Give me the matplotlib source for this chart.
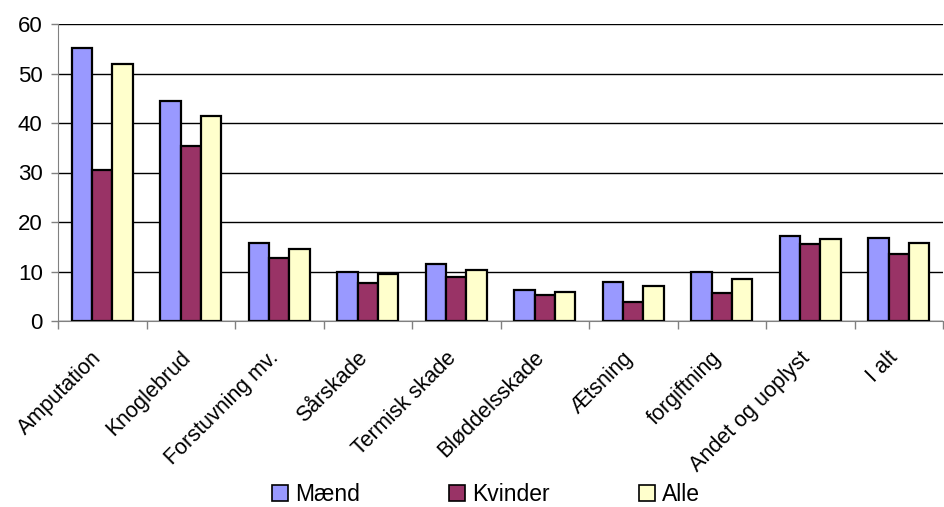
import numpy as np
import matplotlib
matplotlib.use("Agg")
import matplotlib.pyplot as plt
from matplotlib.patches import Patch
from matplotlib.transforms import ScaledTranslation

plt.rcParams['font.family'] = ['Liberation Sans', 'DejaVu Sans']

categories = ["Amputation", "Knoglebrud", "Forstuvning mv.", "Sårskade", "Termisk skade",
              "Bløddelsskade", "Ætsning", "forgiftning", "Andet og uoplyst", "I alt"]
maend = [55.1, 44.4, 15.7, 9.9, 11.5, 6.3, 7.9, 9.9, 17.1, 16.8]
kvinder = [30.5, 35.3, 12.8, 7.6, 8.8, 5.2, 3.9, 5.6, 15.6, 13.6]
alle = [51.9, 41.4, 14.5, 9.5, 10.4, 5.9, 7.1, 8.4, 16.5, 15.7]
series_names = ["Mænd", "Kvinder", "Alle"]
colors = ["#9999FF", "#993366", "#FFFFCC"]
yticks = [0, 10, 20, 30, 40, 50, 60]

fig = plt.figure(figsize=(9.44, 5.07), dpi=100)
ax = fig.add_axes([58 / 944, 1 - 321 / 507, 885 / 944, 297 / 507])

x = np.arange(len(categories))
w = 0.228
for i, (vals, c) in enumerate(zip([maend, kvinder, alle], colors)):
    ax.bar(x + (i - 1) * w, vals, width=w, color=c, edgecolor="black",
           linewidth=1.6, zorder=3)

ax.set_xlim(-0.5, len(categories) - 0.5)
ax.set_ylim(0, 60)
ax.set_yticks(yticks)
ax.set_yticklabels([str(v) for v in yticks], fontsize=16)
ax.yaxis.grid(True, color="black", linewidth=1.0, zorder=0)
ax.tick_params(axis="y", length=5, width=1, color="#808080", pad=6)

ax.set_xticks(np.arange(len(categories) + 1) - 0.5, minor=False)
ax.set_xticklabels([])
ax.tick_params(axis="x", which="major", length=6, width=1, color="#808080")
ax.set_xticks(x, minor=True)
ax.set_xticklabels(categories, minor=True, rotation=45, ha="right",
                   rotation_mode="anchor", fontsize=15.5)
ax.tick_params(axis="x", which="minor", length=0, pad=19)
shift = ScaledTranslation(-11 / 100, 0, fig.dpi_scale_trans)
for lbl in ax.get_xticklabels(minor=True):
    lbl.set_transform(lbl.get_transform() + shift)

for s in ["top", "right"]:
    ax.spines[s].set_visible(False)
ax.spines["left"].set_color("#808080")
ax.spines["bottom"].set_color("#808080")

handles = [Patch(facecolor=c, edgecolor="black", linewidth=1.2) for c in colors]
fig.legend(handles, series_names, loc="lower center", ncol=3, frameon=False,
           fontsize=16.5, bbox_to_anchor=(0.515, -0.039), columnspacing=3.9,
           handlelength=0.7, handleheight=0.7, handletextpad=0.3)

fig.savefig("out.png", dpi=100)
